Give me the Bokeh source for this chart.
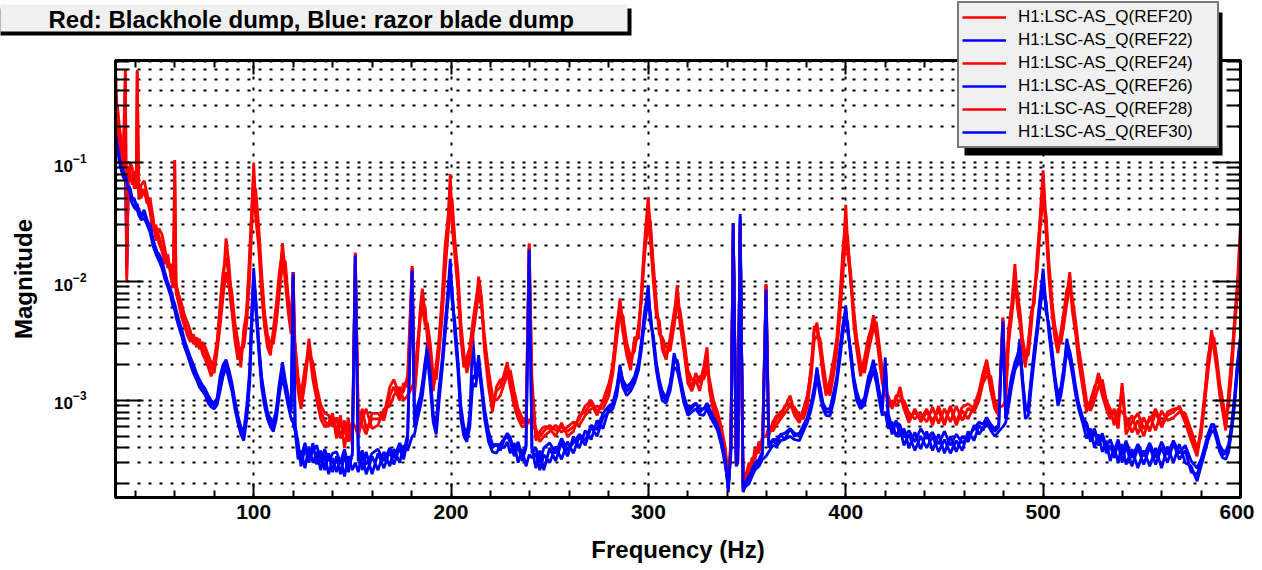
from bokeh.plotting import figure
from bokeh.models import (Range1d, LinearAxis, LogAxis, FixedTicker, Legend, LegendItem,
                          GridBox)
from bokeh.core.properties import value
from bokeh.embed import file_html
from bokeh.resources import INLINE

# ---------------- data ----------------
freq = [
    30, 31, 32, 33, 34, 35, 35.7, 36.5, 37.5, 38.5,
    39.5, 40.5, 41, 41.8, 43, 44.5, 46, 47.5, 49, 50.5,
    52, 53.5, 55, 56.5, 58, 59.3, 60, 60.7, 62, 63.5,
    65, 66.5, 68, 69.5, 71, 72.5, 74, 75.5, 77, 78.5,
    80, 81.5, 83, 84.5, 86, 87.5, 89, 90.5, 92, 93.5,
    95, 96.5, 98, 99, 100, 101, 102.5, 104, 105.5, 107,
    108.5, 110, 111.5, 113, 114.6, 116, 117.5, 119, 120, 121,
    122.5, 124, 126, 128, 130, 132, 134, 136, 138, 140,
    142, 144, 146, 148, 150, 151.5, 153, 155, 157, 160,
    163, 166, 169, 171, 174, 176, 178, 180.3, 181.5, 183,
    184.5, 185.5, 187, 188, 189.5, 191, 192.5, 194, 195.5, 197,
    198.5, 199.6, 200.5, 202, 203.5, 205, 206.5, 208, 209.5, 211,
    212.5, 214, 215.5, 217, 219, 221, 223, 225, 227, 228.5,
    230, 232, 234, 236, 238, 239.6, 241, 243, 245, 247,
    250, 253, 256, 259, 262, 265, 268, 271, 274, 277,
    280, 282, 284, 285.6, 287, 289, 291, 293, 295, 296.5,
    298, 299.9, 301, 302.5, 304, 305.5, 307, 309, 311, 313,
    314.6, 316, 318, 320, 322, 324, 326, 328, 329.7, 331,
    333, 335, 337, 339, 340.5, 341.8, 343, 344.5, 345.3, 346.5,
    348, 349.5, 351, 352.5, 354, 356, 357.8, 359.6, 361, 363,
    365, 367, 369, 371.8, 374, 376.5, 378.5, 380.5, 382.5, 384,
    385.4, 387, 388.5, 390, 392, 394, 395.5, 397, 398.5, 400,
    401, 402.5, 404, 405.5, 407.5, 409.5, 411.5, 414, 415.5, 417,
    418.5, 420, 421.5, 423.5, 425.5, 427.5, 429.5, 432, 435, 438,
    441, 444, 447, 450, 453, 456, 459, 462, 465, 467.5,
    469.5, 471.4, 473.5, 475.5, 477.5, 479.6, 481, 482.5, 484, 485.7,
    487, 488.2, 489.5, 491, 492.5, 494, 495.5, 497, 498.5, 500,
    501.5, 503, 504.5, 506, 507.5, 509, 510.5, 512, 513.5, 515,
    516.5, 518, 520, 522, 524, 526, 528, 530, 532, 534,
    536, 538, 540, 542, 545, 548, 551, 554, 557, 560,
    563, 566, 569, 572, 575, 578, 580, 582, 583.5, 585.3,
    586.5, 588, 589.5, 591, 592.5, 594, 595.5, 597, 598.5, 600,
]

ref20 = [
    0.62, 0.22, 0.16, 0.12, 0.13, 0.60, 0.011, 0.09, 0.08, 0.065,
    0.085, 0.06, 0.60, 0.055, 0.065, 0.07, 0.055, 0.042, 0.03, 0.028,
    0.024, 0.02, 0.016, 0.015, 0.012, 0.0095, 0.105, 0.0085, 0.007, 0.0056,
    0.0045, 0.0038, 0.0034, 0.0033, 0.003, 0.0031, 0.0028, 0.0025, 0.0021, 0.0018,
    0.0022, 0.0032, 0.0055, 0.0095, 0.023, 0.014, 0.0065, 0.0038, 0.0026, 0.0022,
    0.0034, 0.006, 0.015, 0.035, 0.10, 0.045, 0.025, 0.01, 0.005, 0.0032,
    0.0027, 0.0035, 0.0055, 0.01, 0.021, 0.012, 0.0065, 0.0042, 0.012, 0.0026,
    0.0014, 0.00095, 0.0016, 0.0033, 0.0018, 0.0011, 0.0008, 0.00068, 0.0006, 0.0007,
    0.00055, 0.00075, 0.0004, 0.00062, 0.00045, 0.0175, 0.0006, 0.00085, 0.00058, 0.0007,
    0.0007, 0.00075, 0.0013, 0.0015, 0.0011, 0.0012, 0.0016, 0.0135, 0.0012, 0.0026,
    0.0062, 0.0087, 0.005, 0.0038, 0.0025, 0.0013, 0.0018, 0.003, 0.006, 0.016,
    0.031, 0.08, 0.035, 0.019, 0.01, 0.0037, 0.0021, 0.002, 0.0025, 0.004,
    0.006, 0.011, 0.0072, 0.0029, 0.0015, 0.0009, 0.0012, 0.0013, 0.0017, 0.0021,
    0.0015, 0.00104, 0.00075, 0.00065, 0.00068, 0.021, 0.0015, 0.0005, 0.0005, 0.00055,
    0.00062, 0.00056, 0.0006, 0.00055, 0.0006, 0.0007, 0.0009, 0.001, 0.0008, 0.00096,
    0.00126, 0.0021, 0.004, 0.0072, 0.0045, 0.0027, 0.002, 0.003, 0.0037, 0.0087,
    0.021, 0.051, 0.028, 0.012, 0.0059, 0.0042, 0.003, 0.0024, 0.003, 0.005,
    0.0093, 0.005, 0.003, 0.0016, 0.0013, 0.0017, 0.0014, 0.0019, 0.0028, 0.0013,
    0.0009, 0.0007, 0.00055, 0.00035, 0.00018, 0.0005, 0.031, 0.00028, 0.0003, 0.03,
    0.00017, 0.0002, 0.00026, 0.0003, 0.00035, 0.0004, 0.00045, 0.0095, 0.00055, 0.0006,
    0.0007, 0.0008, 0.00086, 0.0011, 0.0008, 0.00068, 0.0008, 0.001, 0.002, 0.0038,
    0.0045, 0.0029, 0.0018, 0.0012, 0.0013, 0.002, 0.003, 0.0063, 0.0145, 0.044,
    0.02, 0.012, 0.0052, 0.003, 0.0018, 0.002, 0.003, 0.0052, 0.004, 0.0025,
    0.0016, 0.0012, 0.001, 0.0009, 0.001, 0.0013, 0.0009, 0.0007, 0.0008, 0.0007,
    0.00085, 0.00062, 0.0009, 0.00065, 0.00088, 0.00062, 0.00082, 0.0007, 0.0009, 0.0012,
    0.0017, 0.0022, 0.0014, 0.0009, 0.0008, 0.005, 0.0012, 0.004, 0.0063, 0.014,
    0.007, 0.005, 0.003, 0.0021, 0.0028, 0.005, 0.0072, 0.0145, 0.036, 0.086,
    0.031, 0.012, 0.006, 0.0037, 0.0028, 0.0035, 0.005, 0.0076, 0.012, 0.006,
    0.004, 0.0024, 0.0015, 0.00086, 0.0009, 0.0012, 0.0017, 0.0013, 0.0009, 0.00075,
    0.0008, 0.00058, 0.0014, 0.0006, 0.00075, 0.00052, 0.00072, 0.00055, 0.0008, 0.0006,
    0.00075, 0.0008, 0.0009, 0.0007, 0.0005, 0.00036, 0.0006, 0.0012, 0.002, 0.0039,
    0.003, 0.002, 0.0012, 0.00086, 0.0006, 0.001, 0.002, 0.005, 0.01, 0.031,
]

ref24 = [
    0.25, 0.30, 0.20, 0.15, 0.10, 0.11, 0.08, 0.07, 0.10, 0.09,
    0.06, 0.075, 0.06, 0.065, 0.05, 0.06, 0.045, 0.05, 0.035, 0.022,
    0.028, 0.025, 0.019, 0.013, 0.014, 0.011, 0.012, 0.0095, 0.0078, 0.0065,
    0.0052, 0.0045, 0.0038, 0.003, 0.0034, 0.0027, 0.0031, 0.0028, 0.0024, 0.0021,
    0.0017, 0.0026, 0.0042, 0.0075, 0.012, 0.009, 0.0055, 0.0032, 0.0022, 0.0028,
    0.0028, 0.0045, 0.011, 0.028, 0.06, 0.06, 0.03, 0.012, 0.0055, 0.0036,
    0.003, 0.003, 0.0045, 0.008, 0.014, 0.015, 0.0075, 0.0048, 0.0035, 0.003,
    0.0016, 0.0011, 0.0019, 0.0025, 0.0021, 0.0013, 0.00092, 0.00078, 0.00075, 0.0006,
    0.00072, 0.00048, 0.00068, 0.00045, 0.00066, 0.0006, 0.0005, 0.0007, 0.00085, 0.00058,
    0.00062, 0.00085, 0.0009, 0.0011, 0.0013, 0.001, 0.0011, 0.0013, 0.0015, 0.003,
    0.005, 0.006, 0.0042, 0.0045, 0.003, 0.0016, 0.0015, 0.0026, 0.005, 0.012,
    0.025, 0.045, 0.05, 0.022, 0.012, 0.0045, 0.0025, 0.0017, 0.0022, 0.0034,
    0.0052, 0.008, 0.006, 0.0034, 0.0018, 0.0011, 0.001, 0.0011, 0.0014, 0.0016,
    0.0018, 0.0012, 0.00085, 0.00072, 0.0006, 0.0007, 0.0006, 0.00058, 0.00045, 0.0005,
    0.00055, 0.00062, 0.00054, 0.0006, 0.00066, 0.00062, 0.00075, 0.00085, 0.0009, 0.00085,
    0.0011, 0.0017, 0.0033, 0.0055, 0.0052, 0.0031, 0.0023, 0.0026, 0.0043, 0.007,
    0.016, 0.035, 0.032, 0.014, 0.0068, 0.0036, 0.0034, 0.0028, 0.0026, 0.0042,
    0.0065, 0.0058, 0.0034, 0.0018, 0.0015, 0.0014, 0.0016, 0.0015, 0.0018, 0.0015,
    0.001, 0.0008, 0.0006, 0.0004, 0.00022, 0.0004, 0.029, 0.0003, 0.0005, 0.028,
    0.0002, 0.00024, 0.0003, 0.00027, 0.0004, 0.00036, 0.0005, 0.0005, 0.0006, 0.00055,
    0.00063, 0.0007, 0.00078, 0.0009, 0.00088, 0.00075, 0.0007, 0.00088, 0.0016, 0.0032,
    0.0035, 0.0033, 0.0021, 0.0014, 0.0011, 0.0017, 0.0026, 0.005, 0.011, 0.025,
    0.024, 0.0095, 0.006, 0.0034, 0.0021, 0.0017, 0.0026, 0.004, 0.0046, 0.0029,
    0.0018, 0.0014, 0.00088, 0.001, 0.0009, 0.001, 0.001, 0.00078, 0.0007, 0.00078,
    0.00066, 0.00088, 0.00064, 0.00085, 0.00066, 0.0009, 0.00068, 0.00086, 0.0008, 0.001,
    0.0014, 0.0016, 0.0016, 0.001, 0.00088, 0.0009, 0.001, 0.003, 0.005, 0.009,
    0.0082, 0.0058, 0.0034, 0.0024, 0.0024, 0.0042, 0.0085, 0.012, 0.028, 0.05,
    0.036, 0.014, 0.0068, 0.0042, 0.0032, 0.003, 0.0043, 0.0065, 0.009, 0.007,
    0.0046, 0.0028, 0.0017, 0.001, 0.00082, 0.001, 0.0013, 0.0015, 0.001, 0.00085,
    0.00062, 0.00085, 0.0008, 0.00072, 0.00054, 0.00068, 0.0005, 0.00074, 0.00056, 0.00082,
    0.00068, 0.00072, 0.0008, 0.00078, 0.00056, 0.0004, 0.0005, 0.001, 0.0017, 0.003,
    0.0034, 0.0023, 0.0014, 0.001, 0.0007, 0.0009, 0.0017, 0.004, 0.008, 0.02,
]

ref28 = [
    0.20, 0.17, 0.12, 0.10, 0.09, 0.55, 0.010, 0.085, 0.07, 0.075,
    0.07, 0.065, 0.58, 0.05, 0.06, 0.055, 0.05, 0.038, 0.026, 0.03,
    0.021, 0.018, 0.014, 0.017, 0.011, 0.0088, 0.10, 0.008, 0.0065, 0.005,
    0.0042, 0.0035, 0.0031, 0.0036, 0.0028, 0.0033, 0.0025, 0.0022, 0.0019, 0.0016,
    0.0019, 0.0029, 0.0065, 0.012, 0.016, 0.011, 0.008, 0.0045, 0.0032, 0.0019,
    0.004, 0.0055, 0.018, 0.04, 0.075, 0.035, 0.02, 0.008, 0.0042, 0.0028,
    0.0024, 0.004, 0.0065, 0.012, 0.018, 0.01, 0.0055, 0.0036, 0.0118, 0.0023,
    0.0012, 0.00085, 0.0014, 0.0028, 0.0015, 0.001, 0.0007, 0.0006, 0.00065, 0.00078,
    0.00048, 0.00066, 0.00052, 0.0007, 0.00042, 0.017, 0.00075, 0.00062, 0.00052, 0.00078,
    0.00078, 0.00068, 0.0011, 0.0013, 0.001, 0.0014, 0.0013, 0.013, 0.0011, 0.0022,
    0.0055, 0.007, 0.0058, 0.0033, 0.0022, 0.0012, 0.002, 0.0035, 0.0075, 0.02,
    0.035, 0.06, 0.03, 0.016, 0.0085, 0.0033, 0.0019, 0.0023, 0.0028, 0.0045,
    0.0068, 0.0095, 0.0065, 0.0026, 0.0013, 0.0008, 0.0013, 0.0015, 0.0015, 0.0018,
    0.0013, 0.0009, 0.0007, 0.0006, 0.00062, 0.0205, 0.0012, 0.00046, 0.00055, 0.0006,
    0.00058, 0.0005, 0.00065, 0.0005, 0.00055, 0.00075, 0.0008, 0.00095, 0.00075, 0.001,
    0.0014, 0.0019, 0.0045, 0.006, 0.0038, 0.0024, 0.0018, 0.0034, 0.0033, 0.0075,
    0.018, 0.03, 0.022, 0.01, 0.0052, 0.0047, 0.0027, 0.0022, 0.0034, 0.0055,
    0.0075, 0.0044, 0.0026, 0.0014, 0.0012, 0.0015, 0.0012, 0.0017, 0.0022, 0.0012,
    0.0008, 0.00065, 0.0005, 0.00032, 0.0002, 0.00045, 0.03, 0.0004, 0.0004, 0.029,
    0.00018, 0.00022, 0.00024, 0.00033, 0.00032, 0.00045, 0.00042, 0.0094, 0.0005, 0.00066,
    0.00075, 0.00072, 0.0009, 0.00095, 0.00075, 0.00065, 0.00085, 0.0011, 0.0018, 0.0042,
    0.004, 0.0026, 0.0016, 0.0011, 0.0015, 0.0023, 0.0034, 0.0072, 0.018, 0.032,
    0.017, 0.0105, 0.0045, 0.0027, 0.0016, 0.0023, 0.0034, 0.0045, 0.0035, 0.0022,
    0.0014, 0.0011, 0.0011, 0.00085, 0.0011, 0.0011, 0.00085, 0.00065, 0.00085, 0.00066,
    0.0008, 0.00068, 0.00082, 0.00062, 0.0009, 0.00066, 0.00088, 0.00094, 0.00085, 0.0011,
    0.0015, 0.0019, 0.0012, 0.00085, 0.00075, 0.0049, 0.0011, 0.0035, 0.0056, 0.011,
    0.006, 0.0045, 0.0027, 0.0019, 0.0031, 0.0056, 0.0065, 0.017, 0.032, 0.06,
    0.026, 0.0105, 0.0053, 0.0033, 0.0025, 0.0038, 0.0056, 0.0085, 0.0095, 0.0053,
    0.0036, 0.0021, 0.0013, 0.0008, 0.001, 0.0013, 0.0015, 0.0011, 0.00085, 0.0007,
    0.00085, 0.00064, 0.0013, 0.00052, 0.00066, 0.00078, 0.00058, 0.00068, 0.00085, 0.00063,
    0.0008, 0.00085, 0.00086, 0.00065, 0.00046, 0.00034, 0.00055, 0.0011, 0.0023, 0.0034,
    0.0027, 0.0018, 0.0011, 0.0008, 0.00056, 0.0012, 0.0023, 0.0045, 0.009, 0.025,
]

ref22 = [
    0.20, 0.15, 0.12, 0.095, 0.085, 0.075, 0.013, 0.065, 0.06, 0.05,
    0.048, 0.045, 0.043, 0.04, 0.036, 0.04, 0.033, 0.028, 0.022, 0.019,
    0.016, 0.014, 0.011, 0.0095, 0.008, 0.0065, 0.0062, 0.0055, 0.0045, 0.0038,
    0.003, 0.0026, 0.0022, 0.0019, 0.0016, 0.0014, 0.0013, 0.0012, 0.00105, 0.00095,
    0.0009, 0.001, 0.0014, 0.0018, 0.0021, 0.0017, 0.0013, 0.00095, 0.0007, 0.00058,
    0.0005, 0.0008, 0.0016, 0.005, 0.013, 0.0075, 0.003, 0.0015, 0.001, 0.00075,
    0.00065, 0.0006, 0.0008, 0.0013, 0.0019, 0.0014, 0.001, 0.0008, 0.012, 0.0006,
    0.00045, 0.00028, 0.0004, 0.0003, 0.00044, 0.00029, 0.00038, 0.00026, 0.00036, 0.00025,
    0.00034, 0.00024, 0.00035, 0.00025, 0.00036, 0.017, 0.0004, 0.00026, 0.00037, 0.00024,
    0.00036, 0.00027, 0.00038, 0.00029, 0.0004, 0.00032, 0.00047, 0.013, 0.0006, 0.00082,
    0.001, 0.0013, 0.002, 0.0031, 0.0015, 0.0007, 0.00058, 0.0012, 0.002, 0.004,
    0.0085, 0.0155, 0.008, 0.004, 0.002, 0.0008, 0.00055, 0.00048, 0.0007, 0.0035,
    0.0015, 0.0024, 0.0013, 0.0008, 0.0005, 0.0004, 0.00043, 0.00038, 0.00047, 0.0005,
    0.00045, 0.00034, 0.00042, 0.00031, 0.0004, 0.019, 0.0004, 0.00027, 0.00038, 0.00026,
    0.0004, 0.00031, 0.00044, 0.00034, 0.0005, 0.0004, 0.00056, 0.00047, 0.00068, 0.00058,
    0.00086, 0.0009, 0.0012, 0.002, 0.0014, 0.0012, 0.0013, 0.0015, 0.002, 0.003,
    0.005, 0.0093, 0.005, 0.0033, 0.002, 0.0014, 0.0011, 0.001, 0.0013, 0.0025,
    0.002, 0.0015, 0.001, 0.0008, 0.00086, 0.00095, 0.0008, 0.00085, 0.0009, 0.0008,
    0.0007, 0.0006, 0.00045, 0.0003, 0.00017, 0.0004, 0.031, 0.00028, 0.0003, 0.037,
    0.00017, 0.0002, 0.00022, 0.00025, 0.00028, 0.0003, 0.00035, 0.0088, 0.0004, 0.00046,
    0.00043, 0.00052, 0.00047, 0.00058, 0.0005, 0.00053, 0.0006, 0.0007, 0.0009, 0.0012,
    0.0019, 0.0012, 0.0009, 0.0008, 0.0008, 0.0011, 0.0015, 0.0025, 0.004, 0.0063,
    0.004, 0.0025, 0.0015, 0.0011, 0.0009, 0.001, 0.0015, 0.0022, 0.0016, 0.0011,
    0.0008, 0.0023, 0.0007, 0.00052, 0.00068, 0.0005, 0.00058, 0.0004, 0.00054, 0.00039,
    0.00055, 0.00038, 0.00052, 0.00036, 0.0005, 0.00037, 0.0005, 0.00045, 0.00062, 0.00052,
    0.00058, 0.0007, 0.0006, 0.00055, 0.0006, 0.0048, 0.0007, 0.001, 0.0015, 0.002,
    0.0022, 0.0033, 0.0015, 0.0009, 0.0008, 0.0015, 0.0025, 0.004, 0.007, 0.0128,
    0.006, 0.004, 0.0025, 0.0015, 0.001, 0.0012, 0.0018, 0.0033, 0.0025, 0.0018,
    0.0012, 0.0009, 0.0007, 0.0006, 0.00045, 0.00056, 0.00042, 0.0005, 0.00036, 0.00042,
    0.00033, 0.00044, 0.0003, 0.00042, 0.00028, 0.0004, 0.00029, 0.00041, 0.00029, 0.0004,
    0.0003, 0.00044, 0.00032, 0.00038, 0.00025, 0.00024, 0.0003, 0.0004, 0.0005, 0.0006,
    0.0006, 0.0005, 0.0004, 0.00035, 0.00036, 0.0004, 0.0006, 0.001, 0.002, 0.0033,
]

ref26 = [
    0.16, 0.13, 0.10, 0.085, 0.075, 0.07, 0.06, 0.055, 0.05, 0.045,
    0.042, 0.04, 0.04, 0.036, 0.033, 0.034, 0.03, 0.026, 0.02, 0.017,
    0.015, 0.013, 0.0105, 0.009, 0.0075, 0.006, 0.0058, 0.005, 0.0042, 0.0035,
    0.0028, 0.0024, 0.002, 0.0017, 0.0015, 0.0013, 0.0012, 0.0011, 0.00095, 0.00088,
    0.00085, 0.00092, 0.0012, 0.0016, 0.0019, 0.0015, 0.0012, 0.00085, 0.00065, 0.00052,
    0.00046, 0.0007, 0.0014, 0.004, 0.009, 0.006, 0.0027, 0.0013, 0.0009, 0.0007,
    0.0006, 0.00055, 0.0007, 0.0011, 0.0016, 0.0012, 0.0009, 0.0007, 0.00065, 0.00055,
    0.00032, 0.00038, 0.00027, 0.00041, 0.0003, 0.00037, 0.00026, 0.00035, 0.00024, 0.00033,
    0.00025, 0.00033, 0.00023, 0.00034, 0.00026, 0.0003, 0.00025, 0.00036, 0.00024, 0.00034,
    0.00026, 0.00037, 0.00028, 0.00039, 0.0003, 0.00042, 0.00038, 0.0005, 0.00052, 0.0007,
    0.0009, 0.0011, 0.0018, 0.0024, 0.0013, 0.00065, 0.00052, 0.001, 0.0018, 0.0035,
    0.007, 0.011, 0.009, 0.0035, 0.0018, 0.0007, 0.0005, 0.00045, 0.0006, 0.0014,
    0.0013, 0.002, 0.0012, 0.0007, 0.00045, 0.00037, 0.00036, 0.00042, 0.0004, 0.00045,
    0.00036, 0.00044, 0.0003, 0.00039, 0.00028, 0.00035, 0.00033, 0.00036, 0.00026, 0.00035,
    0.0003, 0.00041, 0.00032, 0.00045, 0.00036, 0.0005, 0.00042, 0.0006, 0.0005, 0.00072,
    0.0008, 0.00085, 0.0011, 0.0017, 0.0013, 0.0011, 0.0012, 0.0014, 0.0018, 0.0027,
    0.0045, 0.007, 0.0055, 0.003, 0.0018, 0.0013, 0.001, 0.00095, 0.0012, 0.0019,
    0.0018, 0.0014, 0.00095, 0.00075, 0.0008, 0.00085, 0.00076, 0.00075, 0.00085, 0.00075,
    0.00065, 0.00056, 0.00042, 0.00028, 0.0002, 0.00035, 0.028, 0.0003, 0.0004, 0.033,
    0.00019, 0.00019, 0.0002, 0.00023, 0.00026, 0.00028, 0.00032, 0.00034, 0.00037, 0.00042,
    0.00041, 0.00046, 0.00047, 0.0005, 0.00047, 0.00046, 0.00055, 0.00065, 0.00085, 0.0011,
    0.0016, 0.0011, 0.00085, 0.00075, 0.00074, 0.001, 0.0014, 0.0022, 0.0036, 0.005,
    0.0045, 0.0023, 0.0014, 0.001, 0.00085, 0.00092, 0.0013, 0.0018, 0.0014, 0.001,
    0.00075, 0.0008, 0.00058, 0.00066, 0.0005, 0.00058, 0.00042, 0.00052, 0.00038, 0.0005,
    0.0004, 0.0005, 0.00037, 0.00047, 0.00036, 0.00046, 0.00038, 0.00055, 0.00046, 0.00062,
    0.00056, 0.00065, 0.00056, 0.0005, 0.00055, 0.0006, 0.00065, 0.0009, 0.0013, 0.0018,
    0.002, 0.0026, 0.0014, 0.0007, 0.00075, 0.0013, 0.0022, 0.0036, 0.006, 0.009,
    0.0068, 0.0036, 0.0022, 0.0014, 0.0009, 0.0011, 0.0016, 0.0026, 0.0022, 0.0016,
    0.0011, 0.00085, 0.00065, 0.00048, 0.00058, 0.0004, 0.00052, 0.00037, 0.00046, 0.00031,
    0.00041, 0.0003, 0.00043, 0.00029, 0.00039, 0.00027, 0.00038, 0.00028, 0.0004, 0.00027,
    0.00041, 0.0003, 0.00043, 0.0003, 0.00028, 0.00021, 0.00028, 0.00037, 0.00046, 0.00055,
    0.00056, 0.00046, 0.00037, 0.00033, 0.00032, 0.00037, 0.00055, 0.0009, 0.0018, 0.003,
]

ref30 = [
    0.18, 0.14, 0.11, 0.09, 0.08, 0.08, 0.07, 0.06, 0.055, 0.05,
    0.05, 0.042, 0.045, 0.038, 0.035, 0.037, 0.032, 0.03, 0.023, 0.018,
    0.017, 0.015, 0.012, 0.0098, 0.0085, 0.007, 0.0065, 0.0058, 0.0048, 0.004,
    0.0032, 0.0027, 0.0023, 0.002, 0.0017, 0.0015, 0.00135, 0.00125, 0.0011, 0.001,
    0.00095, 0.00105, 0.0016, 0.002, 0.0022, 0.0018, 0.0014, 0.001, 0.00075, 0.0006,
    0.00055, 0.0009, 0.0018, 0.0055, 0.011, 0.007, 0.0032, 0.0016, 0.0011, 0.0008,
    0.0007, 0.00065, 0.00085, 0.0014, 0.0021, 0.0015, 0.0011, 0.00085, 0.0115, 0.00062,
    0.0004, 0.00033, 0.00044, 0.00031, 0.00038, 0.00042, 0.0003, 0.00039, 0.00031, 0.00036,
    0.00037, 0.0003, 0.00039, 0.00028, 0.00035, 0.0165, 0.00031, 0.00038, 0.00029, 0.00036,
    0.00039, 0.00031, 0.0004, 0.00033, 0.00044, 0.00036, 0.00052, 0.0125, 0.00068, 0.0009,
    0.0011, 0.0014, 0.0022, 0.0027, 0.0017, 0.00075, 0.00065, 0.0013, 0.0022, 0.0045,
    0.008, 0.013, 0.007, 0.0045, 0.0022, 0.0009, 0.0006, 0.00052, 0.00075, 0.0016,
    0.0016, 0.0022, 0.0014, 0.00085, 0.00055, 0.00043, 0.00042, 0.00043, 0.00048, 0.00053,
    0.00049, 0.00037, 0.00045, 0.00034, 0.00042, 0.0185, 0.00036, 0.0004, 0.0003, 0.0004,
    0.00044, 0.00036, 0.00048, 0.00038, 0.00044, 0.00052, 0.00046, 0.00062, 0.00057, 0.00078,
    0.0009, 0.00095, 0.0013, 0.0019, 0.0015, 0.0013, 0.0014, 0.0016, 0.0021, 0.0032,
    0.0055, 0.008, 0.0045, 0.0035, 0.0021, 0.0015, 0.0012, 0.00105, 0.0014, 0.0021,
    0.0022, 0.0016, 0.0011, 0.00085, 0.0009, 0.00095, 0.00086, 0.00085, 0.00095, 0.00085,
    0.00072, 0.00062, 0.00048, 0.00032, 0.00018, 0.0004, 0.03, 0.00035, 0.00035, 0.035,
    0.00018, 0.00021, 0.00023, 0.00026, 0.0003, 0.00032, 0.00037, 0.0085, 0.00042, 0.00047,
    0.00047, 0.00052, 0.00053, 0.00058, 0.00053, 0.00052, 0.00062, 0.00072, 0.00095, 0.0013,
    0.0018, 0.0013, 0.00095, 0.00085, 0.00085, 0.0012, 0.0016, 0.0027, 0.0043, 0.0057,
    0.0037, 0.0027, 0.0016, 0.0012, 0.00095, 0.00105, 0.0016, 0.002, 0.0017, 0.0012,
    0.00085, 0.0021, 0.00078, 0.00058, 0.00066, 0.00062, 0.00049, 0.00056, 0.00045, 0.00058,
    0.00048, 0.00054, 0.00043, 0.00055, 0.00042, 0.00052, 0.00044, 0.00049, 0.00058, 0.00066,
    0.00063, 0.00072, 0.00063, 0.00058, 0.00062, 0.0046, 0.00072, 0.0011, 0.0016, 0.0021,
    0.0024, 0.0029, 0.0016, 0.00085, 0.0009, 0.0016, 0.0027, 0.0043, 0.0075, 0.011,
    0.0055, 0.0043, 0.0027, 0.0016, 0.0011, 0.0013, 0.0019, 0.0029, 0.0026, 0.0019,
    0.0013, 0.00095, 0.00072, 0.00065, 0.0005, 0.00058, 0.00045, 0.00053, 0.00041, 0.00047,
    0.00038, 0.00047, 0.00035, 0.00046, 0.00033, 0.00043, 0.00034, 0.00044, 0.00033, 0.00045,
    0.00035, 0.00046, 0.00036, 0.00042, 0.00031, 0.00027, 0.00032, 0.00042, 0.00052, 0.00063,
    0.00063, 0.00052, 0.00042, 0.00038, 0.00037, 0.00043, 0.00063, 0.0011, 0.0021, 0.0035,
]

series_names = ["H1:LSC-AS_Q(REF20)", "H1:LSC-AS_Q(REF22)", "H1:LSC-AS_Q(REF24)",
                "H1:LSC-AS_Q(REF26)", "H1:LSC-AS_Q(REF28)", "H1:LSC-AS_Q(REF30)"]
series_values = [ref20, ref22, ref24, ref26, ref28, ref30]
series_colors = ["#ff0000", "#0000ff", "#ff0000", "#0000ff", "#ff0000", "#0000ff"]

title_text = "Red: Blackhole dump, Blue: razor blade dump"
x_label = "Frequency (Hz)"
y_label = "Magnitude"
x_major_ticks = [100, 200, 300, 400, 500, 600]
x_minor_ticks = [40, 60, 80, 120, 140, 160, 180, 220, 240, 260, 280, 320, 340, 360,
                 380, 420, 440, 460, 480, 520, 540, 560, 580]
y_major_ticks = [1e-3, 1e-2, 1e-1]
y_minor_ticks = [m * 10.0 ** e for e in (-4, -3, -2, -1) for m in range(2, 10)]

FONT = "Liberation Sans"
W, H = 1254, 567

# ---------------- main figure ----------------
p = figure(frame_width=1125, frame_height=437,
           x_range=Range1d(30, 600), y_range=Range1d(1.53e-4, 0.72),
           y_axis_type="log", output_backend="svg", toolbar_location=None,
           min_border_left=115, min_border_top=60, min_border_right=14,
           min_border_bottom=70, background_fill_color="white",
           border_fill_color="white", frame_align=False)
p.outline_line_color = "black"
p.outline_line_width = 3

xt = FixedTicker(ticks=x_major_ticks, minor_ticks=x_minor_ticks)
yt = FixedTicker(ticks=y_major_ticks, minor_ticks=y_minor_ticks)


def style_common(ax, major_in, minor_in):
    ax.axis_line_width = 3
    ax.axis_line_color = "black"
    ax.major_tick_in = major_in
    ax.major_tick_out = 0
    ax.minor_tick_in = minor_in
    ax.minor_tick_out = 0
    ax.major_tick_line_width = 2
    ax.minor_tick_line_width = 2
    ax.major_tick_line_color = "black"
    ax.minor_tick_line_color = "black"
    ax.major_label_text_font = FONT
    ax.major_label_text_font_style = "bold"
    ax.major_label_text_color = "black"


xa = p.xaxis[0]
xa.ticker = xt
style_common(xa, 14, 7)
xa.major_label_text_font_size = "21px"
xa.major_label_standoff = 7
xa.axis_label = x_label
xa.axis_label_text_font = FONT
xa.axis_label_text_font_style = "bold"
xa.axis_label_text_font_size = "24px"
xa.axis_label_text_color = "black"
xa.axis_label_standoff = 14

ya = p.yaxis[0]
ya.ticker = yt
style_common(ya, 28, 12)
ya.major_label_text_font_size = "17px"
ya.major_label_standoff = 29
ya.axis_label = y_label
ya.axis_label_text_font = FONT
ya.axis_label_text_font_style = "bold"
ya.axis_label_text_font_size = "24px"
ya.axis_label_text_color = "black"
ya.axis_label_standoff = 14

# mirrored tick axes (no labels) on top and right
top_ax = LinearAxis(ticker=xt)
style_common(top_ax, 14, 7)
top_ax.major_label_text_color = None
top_ax.major_label_text_font_size = "1px"
top_ax.major_label_standoff = 0
p.add_layout(top_ax, "above")

right_ax = LogAxis(ticker=yt)
style_common(right_ax, 28, 12)
right_ax.major_label_text_color = None
right_ax.major_label_text_font_size = "1px"
right_ax.major_label_standoff = 0
p.add_layout(right_ax, "right")

# grid: dotted, vertical at major x ticks, horizontal at all y ticks
p.xgrid.ticker = FixedTicker(ticks=x_major_ticks[:-1])
p.xgrid.grid_line_color = "black"
p.xgrid.grid_line_dash = "3 8"
p.xgrid.grid_line_width = 2
p.ygrid.grid_line_color = "black"
p.ygrid.grid_line_dash = "3 8"
p.ygrid.grid_line_width = 2
p.ygrid.minor_grid_line_color = "black"
p.ygrid.minor_grid_line_dash = "3 8"
p.ygrid.minor_grid_line_width = 2

# ---------------- traces ----------------
for vals, col in zip(series_values, series_colors):
    p.line(freq, vals, line_color=col, line_width=2.8)

# ---------------- overlay: title pave and legend (pixel coordinates) ----------------
ov = figure(width=W, height=H, x_range=Range1d(0, W), y_range=Range1d(H, 0),
            x_axis_location=None, y_axis_location=None, output_backend="svg",
            toolbar_location=None, min_border=0, background_fill_alpha=0,
            border_fill_alpha=0, outline_line_color=None, frame_align=False)
ov.grid.visible = False

# title pave with shadow
ov.quad(left=[-5], right=[631], top=[8], bottom=[35], fill_color="black", line_color=None)
ov.quad(left=[-5], right=[627], top=[4], bottom=[31], fill_color="#f0f0f0", line_color=None)
ov.text(x=[48], y=[19], text=[title_text], text_font=value(FONT),
        text_font_style="bold", text_font_size="24px", text_color="black",
        text_align="left", text_baseline="middle")

# legend shadow
ov.quad(left=[964], right=[1222], top=[12], bottom=[155], fill_color="black",
        line_color=None)
# legend swatches (no drawable data; they only carry the line style of each series)
nan = float("nan")
legend_glyphs = [ov.line(x=[nan], y=[nan], line_color=c, line_width=2.5)
                 for c in series_colors]
items = [LegendItem(label=n, renderers=[r]) for n, r in zip(series_names, legend_glyphs)]
legend = Legend(items=items, location=(957, H - 148), margin=0, padding=3, spacing=1,
                glyph_width=44, glyph_height=22, label_height=22, label_standoff=12,
                label_width=196, label_text_font=FONT, label_text_font_size="17px",
                label_text_color="black", label_text_baseline="middle",
                background_fill_color="#f0f0f0", background_fill_alpha=1,
                border_line_color="black", border_line_width=2)
ov.add_layout(legend)

layout = GridBox(children=[(p, 0, 0), (ov, 0, 0)])

open("out.html", "w").write(file_html(layout, INLINE))
